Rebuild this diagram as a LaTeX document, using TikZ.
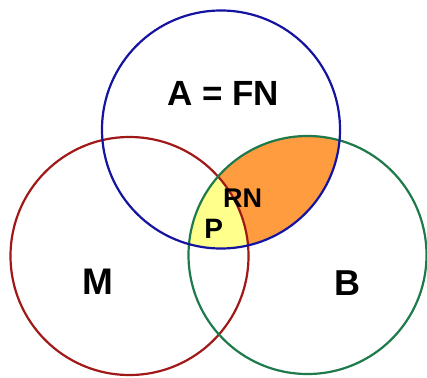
\documentclass[tikz,border=0pt]{standalone}
\usepackage{fontspec}
\setmainfont{Liberation Sans}
\begin{document}
\begin{tikzpicture}[x=1pt,y=-1pt,
  ring/.style={line width=2.2pt},
  lbl/.style={font=\bfseries, inner sep=0pt, text=black}]
\definecolor{cA}{HTML}{1414A0}
\definecolor{cM}{HTML}{A01818}
\definecolor{cB}{HTML}{1E7A4A}
\definecolor{fOrange}{HTML}{FF9C40}
\definecolor{fYellow}{HTML}{FFFF8C}
\useasboundingbox (0,0) rectangle (427,377);
\def\rr{119}
% centres of the three sets
\coordinate (cA) at (221,129.5);
\coordinate (cM) at (129.5,256);
\coordinate (cB) at (307.5,255);
% shaded regions: A and B (orange), A, B and M (yellow)
\begin{scope}
  \clip (cA) circle (\rr);
  \fill[fOrange] (cB) circle (\rr);
  \clip (cB) circle (\rr);
  \fill[fYellow] (cM) circle (\rr);
\end{scope}
% outlines
\draw[ring, cM] (cM) circle (\rr);
\draw[ring, cB] (cB) circle (\rr);
\draw[ring, cA] (cA) circle (\rr);
% labels
\node[lbl, font=\bfseries\fontsize{35}{38}\selectfont] (la) at (223,93.3) {A = FN};
\node[lbl, font=\bfseries\fontsize{37}{40}\selectfont] (lm) at (98.3,281.3) {M};
\node[lbl, font=\bfseries\fontsize{36}{39}\selectfont] (lb) at (347.7,283.3) {B};
\node[lbl, font=\bfseries\fontsize{27}{30}\selectfont] (lrn) at (242.5,198.5) {RN};
\node[lbl, font=\bfseries\fontsize{28}{31}\selectfont] (lp) at (213.8,229.2) {P};
\end{tikzpicture}
\end{document}
